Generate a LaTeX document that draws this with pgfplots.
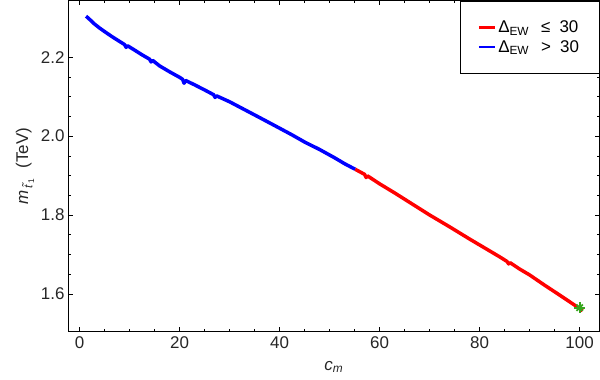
\documentclass[border=0pt]{standalone}
\usepackage{fontspec}
\setmainfont{Liberation Sans}
\usepackage{pgfplots}
\pgfplotsset{compat=1.18}

\definecolor{stargreen}{rgb}{0.22,0.65,0.12}

\begin{document}
\begin{tikzpicture}
\begin{axis}[
    name=ax,
    scale only axis,
    width=531bp, height=331bp,
    xmin=-2.3, xmax=104,
    ymin=1.504, ymax=2.344,
    xtick={0,20,40,60,80,100},
    ytick={1.6,1.8,2.0,2.2},
    minor x tick num=3,
    minor y tick num=3,
    tick align=inside,
    major tick length=5bp,
    minor tick length=3bp,
    tick style={black, line width=0.5bp},
    axis line style={black, line width=0.7bp},
    /pgf/number format/assume math mode=true,
    /pgf/number format/fixed,
    /pgf/number format/fixed zerofill,
    /pgf/number format/precision=1,
    xticklabel={\pgfmathprintnumber[fixed,precision=0]{\tick}},
    tick label style={font=\fontsize{17}{19}\selectfont, text=black!85},
    xticklabel style={yshift=-1bp},
    xlabel={\textit{c}\textsubscript{\textit{m}}},
    ylabel={\textit{m}\textsubscript{\,\textit{\~{t}}\textsubscript{\,1}}\ \ (TeV)},
    label style={font=\fontsize{17}{19}\selectfont, text=black!85},
    xlabel style={yshift=-6bp},
    legend style={at={(0.9995,0.9995)}, anchor=north east, draw=black, line width=0.7bp,
      font=\fontsize{17}{19}\selectfont, inner xsep=18bp, inner ysep=18bp, row sep=2bp,
      cells={anchor=west}},
    legend image post style={xscale=0.95, line width=2.2bp},
  ]
  \addplot[red, line width=3.5bp, line join=round] coordinates {
    (55.1,1.916)(57,1.903)(57.3,1.895)(57.6,1.899)(60,1.879)(63,1.856)(66,1.832)
    (68,1.816)(70,1.800)(74,1.770)(78,1.739)(80,1.724)(84,1.694)(85.5,1.682)
    (85.8,1.676)(86.1,1.679)(88,1.663)(90,1.648)(93,1.622)(96,1.597)(98,1.580)
    (100,1.563)(100.6,1.557)
  };
  \addlegendentry{Δ\textsubscript{EW}\kern12bp≤\kern9bp 30}
  \addplot[blue, line width=3.5bp, line join=round] coordinates {
    (1.3,2.304)(2.0,2.296)(3.0,2.284)(4.0,2.274)(5.0,2.265)(6.5,2.252)(8.0,2.240)
    (9.0,2.232)(9.3,2.225)(9.6,2.229)(11,2.218)(12.5,2.206)(14.0,2.195)(14.3,2.188)
    (14.6,2.192)(16,2.178)(18,2.163)(20,2.149)(20.6,2.144)(20.9,2.134)(21.2,2.141)
    (23,2.130)(25,2.117)(26.8,2.105)(27.1,2.098)(27.4,2.102)(30,2.087)(33,2.067)
    (36,2.047)(40,2.020)(42.5,2.003)(45,1.985)(48,1.966)(51,1.945)(53,1.930)(55.1,1.916)
  };
  \addlegendentry{Δ\textsubscript{EW}\kern12bp>\kern9bp 30}
  \addplot[only marks, mark=+, mark size=5.5bp, color=stargreen,
    mark options={line width=1.8bp}, forget plot] coordinates {(100,1.565)};
  \addplot[only marks, mark=x, mark size=4.5bp, color=stargreen,
    mark options={line width=1.8bp}, forget plot] coordinates {(100,1.565)};
\end{axis}
\pgfresetboundingbox
\path ([xshift=-68bp,yshift=-48bp]ax.south west) rectangle ([xshift=0.4bp,yshift=0.4bp]ax.north east);
\end{tikzpicture}
\end{document}
